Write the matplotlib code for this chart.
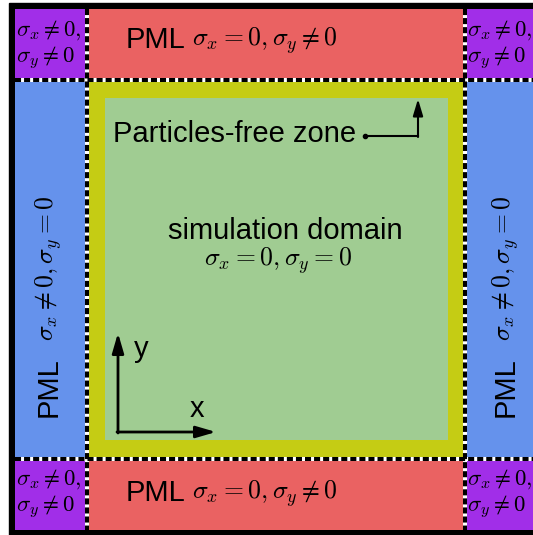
import matplotlib.pyplot as plt
from matplotlib.patches import Rectangle

plt.rcParams['mathtext.fontset'] = 'cm'
plt.rcParams['font.family'] = ['Liberation Sans', 'DejaVu Sans']

# layout of the layers (pixel coordinates of the original figure)
x_edges = [15, 87, 465, 533]
y_edges = [9, 80, 459, 530]
pml_width = 17  # particles-free band inside the domain

colors = {
    'corner': '#a12ee8',
    'pml_y': '#ea6262',
    'pml_x': '#6592ec',
    'band': '#c5cc14',
    'domain': '#a0cc92',
}
# which colour for each cell of the 3x3 grid (row by row, top first)
grid = [
    ['corner', 'pml_y', 'corner'],
    ['pml_x', 'band', 'pml_x'],
    ['corner', 'pml_y', 'corner'],
]

corner_text = r'$\sigma_x \neq 0,$' + '\n' + r'$\sigma_y \neq 0$'
pml_y_math = r'$\sigma_x = 0, \sigma_y \neq 0$'
pml_x_math = r'$\sigma_x \neq 0, \sigma_y = 0$'
domain_math = r'$\sigma_x = 0, \sigma_y = 0$'

fig = plt.figure(figsize=(5.33, 5.35), dpi=100)
ax = fig.add_axes([0, 0, 1, 1])
ax.set_xlim(0, 533)
ax.set_ylim(535, 0)
ax.axis('off')

# black frame
ax.add_patch(Rectangle((9, 3), 540, 540, color='black', zorder=0))

for i in range(3):
    for j in range(3):
        x0, x1 = x_edges[j], x_edges[j + 1]
        y0, y1 = y_edges[i], y_edges[i + 1]
        ax.add_patch(Rectangle((x0, y0), x1 - x0, y1 - y0,
                               color=colors[grid[i][j]], lw=0, zorder=1))

# inner simulation domain
gx0 = x_edges[1] + pml_width + 1
gy0 = y_edges[1] + pml_width + 1
gx1 = x_edges[2] - pml_width
gy1 = y_edges[2] - 19
ax.add_patch(Rectangle((gx0, gy0), gx1 - gx0, gy1 - gy0,
                       color=colors['domain'], lw=0, zorder=2))

# dashed boundaries
for y in y_edges[1:3]:
    ax.plot([x_edges[0], 540], [y, y], color='white', lw=2.9, zorder=3,
            solid_capstyle='butt')
    ax.plot([x_edges[0], 540], [y, y], color='black', lw=2.9, zorder=4,
            dashes=(1.5, 0.75))
for x in x_edges[1:3]:
    ax.plot([x, x], [y_edges[0], y_edges[3]], color='white', lw=2.9, zorder=3,
            solid_capstyle='butt')
    ax.plot([x, x], [y_edges[0], y_edges[3]], color='black', lw=2.9, zorder=4,
            dashes=(1.5, 0.75))

# corner labels
for cx, cy in [(16, 45), (467, 45), (16, 494), (467, 494)]:
    ax.text(cx, cy, corner_text, fontsize=16.5, ha='left', va='center',
            linespacing=1.15, zorder=5)

# top / bottom PML labels
for cy in [40, 493]:
    ax.text(155, cy, 'PML', fontsize=21, ha='center', va='center', zorder=5)
    ax.text(265, cy + 1, pml_y_math, fontsize=18.5, ha='center', va='center', zorder=5)

# left / right PML labels
for cx in [49, 506]:
    ax.text(cx, 387, 'PML', fontsize=21, ha='center', va='center',
            rotation=90, zorder=5)
    ax.text(cx, 268, pml_x_math, fontsize=18.5, ha='center', va='center',
            rotation=90, zorder=5)

# domain labels
ax.text(285, 231, 'simulation domain', fontsize=21, ha='center', va='center', zorder=5)
ax.text(278, 261, domain_math, fontsize=18.5, ha='center', va='center', zorder=5)

ax.text(113, 134, 'Particles-free zone', fontsize=21, ha='left', va='center', zorder=5)
ax.plot([365, 418], [136, 136], color='black', lw=1.5, zorder=5)
ax.plot([365], [136], 'o', color='black', ms=3, zorder=5)
ax.annotate('', xy=(418, 99), xytext=(418, 137),
            arrowprops=dict(arrowstyle='-|>,head_width=0.3,head_length=1.0',
                            color='black', lw=1.5, shrinkA=0, shrinkB=0), zorder=5)

# coordinate axes
ox, oy = 118, 432
ax.annotate('', xy=(ox, 333), xytext=(ox, oy + 1),
            arrowprops=dict(arrowstyle='-|>,head_width=0.35,head_length=1.2',
                            color='black', lw=2, shrinkA=0, shrinkB=0), zorder=5)
ax.annotate('', xy=(216, oy), xytext=(ox - 1, oy),
            arrowprops=dict(arrowstyle='-|>,head_width=0.35,head_length=1.2',
                            color='black', lw=2, shrinkA=0, shrinkB=0), zorder=5)
ax.text(141, 349, 'y', fontsize=21, ha='center', va='center', zorder=5)
ax.text(197, 409, 'x', fontsize=21, ha='center', va='center', zorder=5)

fig.savefig('out.png', dpi=100)
